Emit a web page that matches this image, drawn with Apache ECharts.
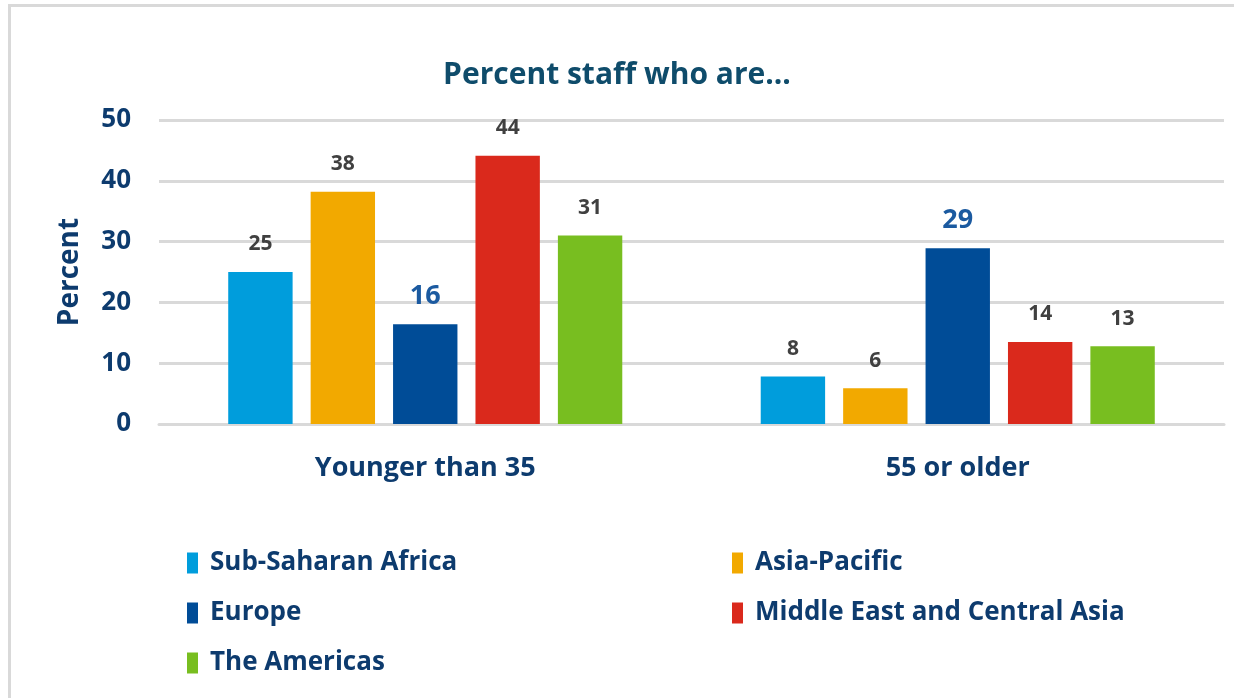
<!DOCTYPE html>
<html>
<head>
<meta charset="utf-8">
<script src="https://cdn.jsdelivr.net/npm/echarts@6/dist/echarts.min.js"></script>
<style>
  html, body { margin: 0; padding: 0; background: #fff; }
  #frame { position: absolute; left: 8px; top: 4px; width: 1240px; height: 720px;
           border-left: 3px solid #d9d9d9; border-top: 3px solid #d9d9d9; }
  #main { position: absolute; left: 0; top: 0; width: 1234px; height: 698px; }
</style>
</head>
<body>
<div id="frame"></div>
<div id="main"></div>
<script>
var categories = ['Younger than 35', '55 or older']
var regions = ['Sub-Saharan Africa', 'Asia-Pacific', 'Europe', 'Middle East and Central Asia', 'The Americas']
var colors = ['#009ddc', '#f2a900', '#004c97', '#da291c', '#78be20']
// values per region: [younger than 35, 55 or older]
var subSaharan = [25, 7.8]
var asiaPacific = [38.2, 5.9]
var europe = [16.4, 28.9]
var middleEast = [44.1, 13.5]
var americas = [31, 12.8]
var yTicks = [0, 10, 20, 30, 40, 50]

var font = '"Liberation Sans Narrow", "Open Sans", sans-serif'
var navy = '#0d3b6e'

var values = [subSaharan, asiaPacific, europe, middleEast, americas]

var series = regions.map(function (name, i) {
  var isEurope = name === 'Europe'
  return {
    name: name,
    type: 'bar',
    data: values[i],
    barGap: '28%',
    barCategoryGap: '26%',
    itemStyle: { color: colors[i] },
    label: {
      show: true,
      position: 'top',
      distance: isEurope ? 14 : 17,
      fontFamily: font,
      fontWeight: 'bold',
      fontSize: isEurope ? 27 : 21,
      color: isEurope ? '#1b5aa0' : '#404040',
      formatter: function (p) { return Math.round(p.value) }
    }
  }
})

var legendText = { fontFamily: font, fontWeight: 'bold', fontSize: 26, color: navy, padding: [0, 0, 0, 7] }

var chart = echarts.init(document.getElementById('main'))
chart.setOption({
  animation: false,
  title: {
    text: 'Percent staff who are...',
    left: 'center',
    top: 55,
    textStyle: { fontFamily: font, fontWeight: 'bold', fontSize: 30, color: '#0f4c6b' }
  },
  legend: [
    {
      data: [regions[0], regions[2], regions[4]],
      orient: 'vertical',
      left: 182,
      top: 545,
      itemWidth: 11,
      itemHeight: 21,
      itemGap: 24,
      icon: 'rect',
      textStyle: legendText
    },
    {
      data: [regions[1], regions[3]],
      orient: 'vertical',
      left: 727,
      top: 545,
      itemWidth: 11,
      itemHeight: 21,
      itemGap: 24,
      icon: 'rect',
      textStyle: legendText
    }
  ],
  grid: { left: 159, right: 10, top: 120, bottom: 274, containLabel: false },
  xAxis: {
    type: 'category',
    data: categories,
    axisLine: { show: true, lineStyle: { color: '#d9d9d9', width: 3 } },
    axisTick: { show: false },
    axisLabel: {
      margin: 31,
      fontFamily: font,
      fontWeight: 'bold',
      fontSize: 27,
      color: navy
    }
  },
  yAxis: {
    type: 'value',
    min: yTicks[0],
    max: yTicks[yTicks.length - 1],
    interval: 10,
    name: 'Percent',
    nameLocation: 'middle',
    nameGap: 75,
    nameTextStyle: { fontFamily: font, fontWeight: 'bold', fontSize: 28, color: navy },
    axisLine: { show: false },
    axisTick: { show: false },
    splitLine: { lineStyle: { color: '#d9d9d9', width: 3 } },
    axisLabel: {
      margin: 28,
      fontFamily: font,
      fontWeight: 'bold',
      fontSize: 26,
      color: navy
    }
  },
  series: series
})
</script>
</body>
</html>
